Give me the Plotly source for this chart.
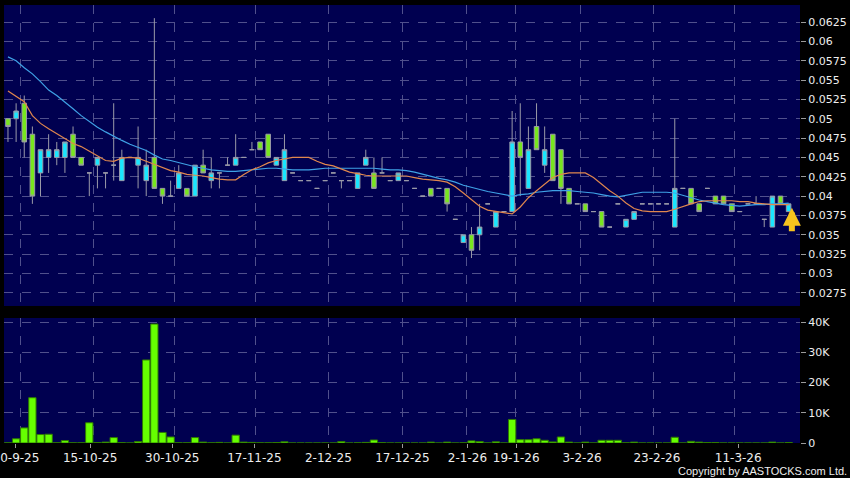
import plotly.graph_objects as go

# ---------------- data ----------------
opens = [0.050, 0.050, 0.052, 0.048, 0.043, 0.045, 0.045, 0.045, 0.048, 0.045,
         0.043, 0.044, 0.043, 0.044, 0.042, 0.045, 0.044, 0.042, 0.045, 0.041,
         0.040, 0.041, 0.041, 0.040, 0.044, 0.042, 0.043, 0.044, 0.044, 0.045,
         0.046, 0.047, 0.048, 0.044, 0.042, 0.043, 0.042, 0.042, 0.041, 0.042,
         0.043, 0.042, 0.042, 0.041, 0.044, 0.043, 0.043, 0.042, 0.042, 0.042,
         0.041, 0.040, 0.041, 0.041, 0.041, 0.037, 0.034, 0.035, 0.035, 0.039,
         0.036, 0.038, 0.038, 0.047, 0.041, 0.049, 0.044, 0.048, 0.046, 0.041,
         0.039, 0.039, 0.038, 0.038, 0.036, 0.039, 0.036, 0.037, 0.039, 0.039,
         0.039, 0.039, 0.036, 0.041, 0.041, 0.039, 0.041, 0.040, 0.040, 0.039,
         0.038, 0.039, 0.039, 0.037, 0.036, 0.040, 0.038]
highs = [0.050, 0.052, 0.053, 0.049, 0.046, 0.048, 0.047, 0.047, 0.049, 0.045,
         0.043, 0.045, 0.043, 0.052, 0.046, 0.045, 0.049, 0.046, 0.063, 0.041,
         0.042, 0.044, 0.041, 0.044, 0.046, 0.045, 0.043, 0.045, 0.048, 0.045,
         0.047, 0.047, 0.048, 0.045, 0.048, 0.043, 0.042, 0.042, 0.041, 0.042,
         0.043, 0.042, 0.042, 0.043, 0.046, 0.045, 0.045, 0.042, 0.043, 0.042,
         0.041, 0.040, 0.041, 0.041, 0.041, 0.037, 0.035, 0.036, 0.039, 0.039,
         0.038, 0.038, 0.051, 0.052, 0.049, 0.052, 0.049, 0.048, 0.046, 0.041,
         0.039, 0.039, 0.038, 0.038, 0.036, 0.039, 0.037, 0.038, 0.039, 0.039,
         0.039, 0.039, 0.050, 0.041, 0.041, 0.039, 0.041, 0.040, 0.040, 0.039,
         0.038, 0.039, 0.040, 0.037, 0.040, 0.040, 0.039]
lows = [0.047, 0.047, 0.045, 0.039, 0.040, 0.043, 0.044, 0.043, 0.045, 0.044,
        0.040, 0.041, 0.041, 0.042, 0.042, 0.045, 0.041, 0.040, 0.041, 0.039,
        0.040, 0.041, 0.040, 0.040, 0.043, 0.041, 0.041, 0.044, 0.044, 0.045,
        0.046, 0.046, 0.045, 0.044, 0.042, 0.043, 0.042, 0.042, 0.041, 0.042,
        0.043, 0.041, 0.042, 0.041, 0.044, 0.041, 0.043, 0.042, 0.042, 0.042,
        0.041, 0.040, 0.040, 0.041, 0.038, 0.037, 0.034, 0.032, 0.033, 0.039,
        0.036, 0.038, 0.038, 0.040, 0.041, 0.046, 0.043, 0.042, 0.039, 0.039,
        0.039, 0.038, 0.038, 0.036, 0.036, 0.039, 0.036, 0.037, 0.039, 0.039,
        0.039, 0.039, 0.036, 0.041, 0.039, 0.038, 0.041, 0.039, 0.039, 0.038,
        0.038, 0.039, 0.039, 0.036, 0.036, 0.039, 0.038]
closes = [0.049, 0.051, 0.047, 0.040, 0.046, 0.046, 0.046, 0.047, 0.045, 0.044,
          0.043, 0.045, 0.043, 0.044, 0.045, 0.045, 0.045, 0.044, 0.041, 0.040,
          0.040, 0.043, 0.040, 0.044, 0.043, 0.043, 0.043, 0.044, 0.045, 0.045,
          0.046, 0.046, 0.045, 0.045, 0.046, 0.043, 0.042, 0.042, 0.041, 0.042,
          0.043, 0.042, 0.042, 0.043, 0.045, 0.041, 0.043, 0.042, 0.043, 0.042,
          0.041, 0.040, 0.040, 0.041, 0.039, 0.037, 0.035, 0.033, 0.036, 0.039,
          0.038, 0.038, 0.047, 0.045, 0.046, 0.046, 0.046, 0.042, 0.041, 0.039,
          0.039, 0.038, 0.038, 0.036, 0.036, 0.039, 0.037, 0.038, 0.039, 0.039,
          0.039, 0.039, 0.041, 0.041, 0.039, 0.038, 0.041, 0.039, 0.039, 0.038,
          0.038, 0.039, 0.039, 0.037, 0.040, 0.039, 0.039]
volumes = [50, 1400, 5000, 15000, 2800, 2900, 50, 800, 50, 50,
           6700, 100, 300, 1800, 100, 0, 500, 27500, 39400, 3500,
           2000, 50, 50, 1800, 300, 50, 200, 0, 2600, 300,
           200, 50, 50, 150, 400, 0, 0, 0, 0, 0,
           0, 500, 0, 50, 200, 1000, 100, 0, 0, 0,
           0, 0, 300, 0, 300, 0, 50, 700, 500, 0,
           400, 0, 7800, 1100, 1100, 1400, 900, 350, 2000, 300,
           0, 300, 0, 900, 900, 900, 50, 300, 0, 0,
           0, 0, 1900, 0, 550, 300, 150, 150, 0, 0,
           0, 0, 0, 0, 300, 0, 150]
ma_short = [0.0536, 0.0529, 0.0522, 0.0504, 0.0494, 0.0487, 0.0481, 0.0475, 0.0468, 0.0464,
            0.0458, 0.0452, 0.0446, 0.0445, 0.0449, 0.0450, 0.0449, 0.0445, 0.0441, 0.0437,
            0.0433, 0.0431, 0.0428, 0.0427, 0.0426, 0.0424, 0.0422, 0.0421, 0.0421, 0.0428,
            0.0434, 0.0438, 0.0443, 0.0446, 0.0448, 0.0450, 0.0450, 0.0450, 0.0445, 0.0441,
            0.0439, 0.0435, 0.0431, 0.0429, 0.0427, 0.0426, 0.0426, 0.0426, 0.0426, 0.0426,
            0.0424, 0.0422, 0.0421, 0.0420, 0.0418, 0.0412, 0.0404, 0.0396, 0.0387, 0.0382,
            0.0380, 0.0378, 0.0377, 0.0386, 0.0398, 0.0407, 0.0415, 0.0424, 0.0428, 0.0430,
            0.0430, 0.0430, 0.0424, 0.0415, 0.0407, 0.0400, 0.0391, 0.0384, 0.0381, 0.0380,
            0.0380, 0.0380, 0.0383, 0.0387, 0.0390, 0.0393, 0.0394, 0.0394, 0.0394, 0.0394,
            0.0393, 0.0393, 0.0391, 0.0390, 0.0389, 0.0389, 0.0389]
ma_long = [0.0580, 0.0575, 0.0566, 0.0558, 0.0548, 0.0537, 0.0530, 0.0522, 0.0513, 0.0504,
           0.0496, 0.0489, 0.0483, 0.0477, 0.0472, 0.0467, 0.0463, 0.0459, 0.0453, 0.0448,
           0.0446, 0.0443, 0.0440, 0.0438, 0.0436, 0.0434, 0.0433, 0.0432, 0.0432, 0.0433,
           0.0434, 0.0435, 0.0436, 0.0436, 0.0435, 0.0434, 0.0434, 0.0434, 0.0435, 0.0436,
           0.0436, 0.0436, 0.0436, 0.0436, 0.0436, 0.0436, 0.0435, 0.0434, 0.0434, 0.0433,
           0.0431, 0.0428, 0.0426, 0.0423, 0.0421, 0.0418, 0.0414, 0.0411, 0.0408, 0.0406,
           0.0404, 0.0402, 0.0400, 0.0402, 0.0403, 0.0405, 0.0406, 0.0407, 0.0407, 0.0407,
           0.0406, 0.0405, 0.0404, 0.0402, 0.0400, 0.0399, 0.0401, 0.0403, 0.0405, 0.0405,
           0.0405, 0.0405, 0.0404, 0.0401, 0.0398, 0.0395, 0.0393, 0.0391, 0.0389, 0.0388,
           0.0387, 0.0388, 0.0389, 0.0389, 0.0390, 0.0390, 0.0391]

# date labels: where the tick marks sit, and where the vertical grid lines sit (in bar index units)
date_tick_pos = [0.98, 10.1, 20.2, 30.3, 39.4, 48.5, 56.5, 62.5, 70.6, 79.8, 89.8]
date_grid_pos = [1.56, 10.5, 20.45, 30.47, 39.4, 48.5, 56.4, 62.4, 70.4, 79.4, 89.4]
date_tick_labels = ["30-9-25", "15-10-25", "30-10-25", "17-11-25", "2-12-25", "17-12-25",
                    "2-1-26", "19-1-26", "3-2-26", "23-2-26", "11-3-26"]
price_tick_values = [0.0275, 0.03, 0.0325, 0.035, 0.0375, 0.04, 0.0425, 0.045,
                     0.0475, 0.05, 0.0525, 0.055, 0.0575, 0.06, 0.0625]
price_tick_labels = ["0.0275", "0.03", "0.0325", "0.035", "0.0375", "0.04", "0.0425", "0.045",
                     "0.0475", "0.05", "0.0525", "0.055", "0.0575", "0.06", "0.0625"]
vol_tick_values = [0, 10000, 20000, 30000, 40000]
vol_tick_labels = ["0", "10K", "20K", "30K", "40K"]

# ---------------- styling ----------------
BG = "#000050"
GRID = "#50508c"
CYAN = "#19e6ff"
GREEN = "#78e61e"
EDGE = "#9a9aa8"
LIME = "#66ff00"
FONT = "DejaVu Sans"
TXT = "#eeeeee"

idx = list(range(len(closes)))

fig = go.Figure()

fig.add_trace(go.Candlestick(
    x=idx, open=opens, high=highs, low=lows, close=closes,
    increasing=dict(fillcolor=CYAN, line=dict(color=EDGE, width=1)),
    decreasing=dict(fillcolor=GREEN, line=dict(color=EDGE, width=1)),
    whiskerwidth=0, xaxis="x", yaxis="y", showlegend=False, hoverinfo="skip"))

fig.add_trace(go.Scatter(x=idx, y=ma_long, mode="lines",
                         line=dict(color="#3fa2e6", width=1.2),
                         xaxis="x", yaxis="y", showlegend=False, hoverinfo="skip"))
fig.add_trace(go.Scatter(x=idx, y=ma_short, mode="lines",
                         line=dict(color="#e0874e", width=1.2),
                         xaxis="x", yaxis="y", showlegend=False, hoverinfo="skip"))

fig.add_trace(go.Bar(x=idx, y=volumes,
                     marker=dict(color=LIME, line=dict(color="#2f7a00", width=1)),
                     xaxis="x2", yaxis="y2", showlegend=False, hoverinfo="skip"))

xr = [-0.49, 97.4]
common_y = dict(showgrid=True, gridcolor=GRID, griddash="dash", gridwidth=1, zeroline=False,
                side="right", ticks="outside", ticklen=5, tickcolor="#9a9a9a", tickwidth=1,
                tickfont=dict(family=FONT, size=11, color=TXT), showline=False,
                tickmode="array", automargin=False)

fig.update_layout(
    width=850, height=478,
    margin=dict(l=4, r=50, t=5, b=35, autoexpand=False),
    paper_bgcolor="black", plot_bgcolor=BG,
    boxgap=0.2, bargap=0.1,
    xaxis=dict(range=xr, domain=[0, 1], anchor="y", showticklabels=False,
               tickmode="array", tickvals=date_grid_pos, ticks="",
               showgrid=True, gridcolor=GRID, griddash="dash", gridwidth=1,
               zeroline=False, showline=False, automargin=False,
               rangeslider=dict(visible=False)),
    xaxis2=dict(range=xr, domain=[0, 1], anchor="y2",
                tickmode="array", tickvals=date_tick_pos, ticktext=date_tick_labels,
                ticks="outside", ticklen=4, tickcolor="#9a9a9a", showgrid=False,
                ticklabeloverflow="allow",
                minor=dict(tickmode="array", tickvals=date_grid_pos, ticks="",
                           showgrid=True, gridcolor=GRID, griddash="dash", gridwidth=1),
                tickfont=dict(family=FONT, size=12, color=TXT),
                zeroline=False, showline=False, automargin=False),
    yaxis=dict(**common_y, domain=[0.3128, 1], anchor="x", range=[0.0258, 0.0647],
               tickvals=price_tick_values, ticktext=price_tick_labels),
    yaxis2=dict(**common_y, domain=[0, 0.2854], anchor="x2", range=[0, 41400],
                tickvals=vol_tick_values, ticktext=vol_tick_labels),
    showlegend=False,
)

# marker arrow under the latest candle
fig.add_annotation(x=idx[-1] + 0.4, y=lows[-1] + 0.0005, xref="x", yref="y",
                   ax=0, ay=25, showarrow=True, arrowhead=2, arrowsize=0.6,
                   arrowwidth=6, arrowcolor="#f7c21e", text="")

fig.add_annotation(x=1.0615, y=-0.064, xref="paper", yref="paper",
                   xanchor="right", yanchor="middle", showarrow=False,
                   text="Copyright by AASTOCKS.com Ltd.",
                   font=dict(family="Liberation Sans", size=11, color=TXT))

fig.write_html("out.html", config={"displayModeBar": False},
               post_script="document.body.style.margin='0';document.body.style.overflow='hidden';")
